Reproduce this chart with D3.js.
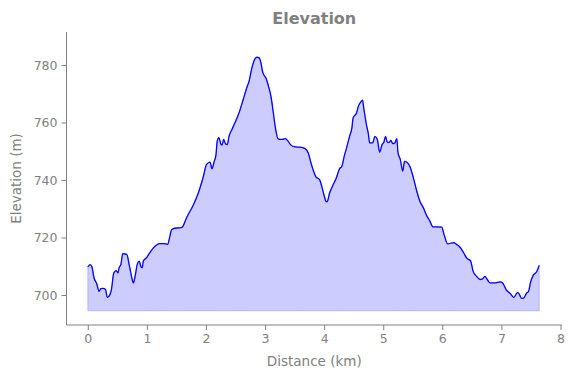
<!DOCTYPE html>
<html><head><meta charset="utf-8">
<script src="https://cdn.jsdelivr.net/npm/d3@7"></script>
<style>body{margin:0;background:#fff}svg{display:block}text{font-family:"DejaVu Sans",sans-serif}</style>
</head><body><svg id="c" width="574" height="378"></svg>
<script>
const distanceKm = [0,0.04,0.07,0.105,0.15,0.19,0.22,0.26,0.3,0.33,0.36,0.4,0.44,0.48,0.51,0.53,0.56,0.59,0.62,0.66,0.7,0.74,0.77,0.8,0.84,0.87,0.9,0.92,0.94,1.0,1.05,1.11,1.22,1.29,1.35,1.39,1.42,1.5,1.58,1.61,1.67,1.79,1.87,1.95,2.01,2.07,2.1,2.14,2.17,2.19,2.22,2.25,2.27,2.3,2.33,2.36,2.39,2.44,2.49,2.56,2.63,2.69,2.73,2.77,2.81,2.86,2.9,2.93,2.96,3.02,3.05,3.1,3.14,3.18,3.22,3.28,3.34,3.39,3.43,3.51,3.59,3.67,3.73,3.77,3.82,3.86,3.92,3.96,4.0,4.03,4.05,4.09,4.14,4.2,4.26,4.3,4.34,4.38,4.43,4.47,4.49,4.55,4.58,4.62,4.65,4.67,4.71,4.75,4.77,4.82,4.86,4.9,4.94,4.98,5.01,5.04,5.07,5.1,5.13,5.16,5.19,5.23,5.25,5.29,5.33,5.36,5.4,5.45,5.51,5.56,5.62,5.68,5.73,5.79,5.84,5.9,5.99,6.03,6.09,6.19,6.24,6.3,6.36,6.41,6.48,6.52,6.58,6.64,6.68,6.72,6.76,6.81,6.89,6.98,7.02,7.08,7.15,7.21,7.27,7.3,7.34,7.38,7.42,7.46,7.49,7.54,7.59,7.64];
const elevationM = [709.8,710.6,709.8,706,704,701.3,702.2,702.3,701.9,699.2,699.6,701.9,707.7,708.5,707.7,709.5,710.6,714.4,714.3,714.1,710.6,706.5,704.2,706.5,710.9,711.8,709.8,709.5,711.8,713.1,714.7,716.4,717.9,717.9,717.6,720.5,722.8,723.3,723.4,723.9,726.8,731.5,735.5,740.8,745.4,746.2,743.9,746.5,748.9,753.5,754.7,752.6,752.1,754.1,752.6,752.3,755.2,757.6,759.9,763.4,768,772.1,774.4,778.4,781.3,782.7,782.5,780.8,777.5,775.2,773.2,769.1,763.4,757.6,754.3,754.1,754.4,753.5,752.3,751.5,751.4,751,749.5,746.5,743.1,741.1,740.2,737.8,734.6,732.6,732.4,735.3,737.8,740.4,743.9,744.8,748.3,751.2,755.2,758.2,761.6,763.4,765.7,767.1,767.8,765.1,759.9,755.8,752.9,752.9,755.2,754.1,749.7,752.3,753.1,755.2,753.1,753.1,753.8,752.7,752.7,754.4,749.5,747.1,743.1,746.5,746.2,744.8,740.8,736.7,732.6,730.3,727.8,725.7,723.7,723.7,723.6,721,717.8,718.2,717.6,716.6,714.7,712.9,711.8,708.3,706.5,705.4,705.6,706.5,705.4,704.2,704.2,704.6,704.2,701.9,700.5,699.2,700.8,700.4,698.8,699,700.5,701.3,704.2,706.9,707.9,710.3];
const xTicks = [0,1,2,3,4,5,6,7,8];
const yTicks = [700,720,740,760,780];
const fillBase = 694.5;

const svg = d3.select("#c");
const gray = "#808080";
const x = d3.scaleLinear().domain([0,8]).range([87.8,560.5]);
const y = d3.scaleLinear().domain([700,780]).range([295,65]);
const axLeft = 66.5, axBottom = 325, axTop = 32, axRight = 562;

const data = distanceKm.map((d,i)=>({d, e: elevationM[i]}));
svg.append("path").datum(data)
  .attr("d", d3.area().x(p=>x(p.d)).y0(y(fillBase)).y1(p=>y(p.e)).curve(d3.curveMonotoneX))
  .attr("fill","rgba(0,0,255,0.2)").attr("stroke","rgba(0,0,255,0.2)").attr("stroke-width",1);
svg.append("path").datum(data)
  .attr("d", d3.line().x(p=>x(p.d)).y(p=>y(p.e)).curve(d3.curveMonotoneX))
  .attr("fill","none").attr("stroke","#0000ff").attr("stroke-width",1.3);

svg.append("line").attr("x1",axLeft).attr("x2",axLeft).attr("y1",axTop).attr("y2",axBottom).attr("stroke",gray).attr("stroke-width",1);
svg.append("line").attr("x1",axLeft).attr("x2",axRight).attr("y1",axBottom).attr("y2",axBottom).attr("stroke",gray).attr("stroke-width",1);

const xa = svg.append("g").attr("transform",`translate(0,${axBottom})`)
  .call(d3.axisBottom(x).tickValues(xTicks).tickFormat(d3.format("d")).tickSize(5).tickPadding(4));
const ya = svg.append("g").attr("transform",`translate(${axLeft},0)`)
  .call(d3.axisLeft(y).tickValues(yTicks).tickFormat(d3.format("d")).tickSize(5).tickPadding(4));
[xa,ya].forEach(g=>{
  g.select(".domain").remove();
  g.selectAll("line").attr("stroke",gray);
  g.selectAll("text").attr("fill",gray).style("font-size","12.5px").style("font-family","DejaVu Sans");
});

svg.append("text").attr("x",(axLeft+axRight)/2).attr("y",366).attr("text-anchor","middle")
  .attr("fill",gray).style("font-size","13.5px").text("Distance (km)");
svg.append("text").attr("transform",`translate(21,${(axTop+axBottom)/2}) rotate(-90)`).attr("text-anchor","middle")
  .attr("fill",gray).style("font-size","13.5px").text("Elevation (m)");
svg.append("text").attr("x",(axLeft+axRight)/2).attr("y",24).attr("text-anchor","middle")
  .attr("fill",gray).style("font-size","16px").style("font-weight","bold").text("Elevation");
</script></body></html>
